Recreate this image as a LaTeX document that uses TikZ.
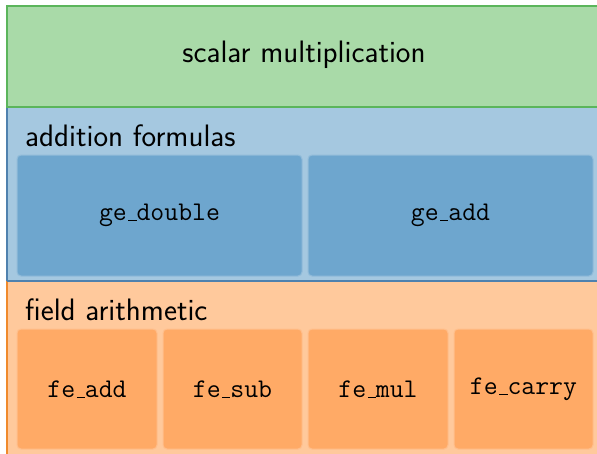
\documentclass[tikz,border=0pt]{standalone}
\usepackage{fontspec}
\definecolor{gfill}{HTML}{A9DAA8}
\definecolor{gline}{HTML}{5BB55B}
\definecolor{bfill}{HTML}{A5C8E0}
\definecolor{bline}{HTML}{4F81AE}
\definecolor{binner}{HTML}{6EA6CE}
\definecolor{ofill}{HTML}{FFC99C}
\definecolor{oline}{HTML}{F08A2C}
\definecolor{oinner}{HTML}{FFAA66}
\newcommand\myusc{\leavevmode\kern.06em\vbox{\hrule width.3em height .45pt}}
\begin{document}
\begin{tikzpicture}[x=1pt,y=-1pt,
  band/.style={line width=1.5pt},
  bluebox/.style={fill=binner,draw=binner!75!white,line width=1pt,rounded corners=4pt},
  orangebox/.style={fill=oinner,draw=oinner!75!white,line width=1pt,rounded corners=4pt},
  lbl/.style={font=\fontsize{31}{36}\selectfont\sffamily,inner sep=0pt},
  code/.style={font=\fontsize{27}{32}\selectfont\ttfamily,inner sep=0pt}]
\useasboundingbox (0,0) rectangle (597,453);
\clip (0,0) rectangle (597,453);
\fill[white] (0,0) rectangle (597,453);
% bands
\path[fill=ofill] (7,281) rectangle (610,470);
\draw[band,oline] (7,281) -- (7,470);
\path[fill=bfill] (7,107) rectangle (610,281);
\draw[band,bline] (7,107) -- (7,281) (7,281) -- (610,281);
\path[fill=gfill] (7,6) rectangle (610,107);
\draw[band,gline] (610,6) -- (7,6) -- (7,107) -- (610,107);
% titles
\node[lbl] (sm) at (304,55) {scalar multiplication};
\node[lbl,anchor=base west] (af) at (25,146) {addition formulas};
\node[lbl,anchor=base west] (fa) at (25,320) {field arithmetic};
% ge boxes
\node[bluebox,minimum width=285pt,minimum height=121pt] (gd) at (159.5,215.5) {};
\node[code] at (gd) {ge\myusc double};
\node[bluebox,minimum width=285pt,minimum height=121pt] (ga) at (450.5,215.5) {};
\node[code] at (ga) {ge\myusc add};
% fe boxes
\node[orangebox,minimum width=140pt,minimum height=120pt] (f1) at (87,389) {};
\node[code] at (f1) {fe\myusc add};
\node[orangebox,minimum width=139pt,minimum height=120pt] (f2) at (232.5,389) {};
\node[code] at (f2) {fe\myusc sub};
\node[orangebox,minimum width=140pt,minimum height=120pt] (f3) at (378,389) {};
\node[code] at (f3) {fe\myusc mul};
\node[orangebox,minimum width=139pt,minimum height=120pt] (f4) at (523.5,389) {};
\node[code] at (f4) {fe\myusc carry};
\end{tikzpicture}
\end{document}
